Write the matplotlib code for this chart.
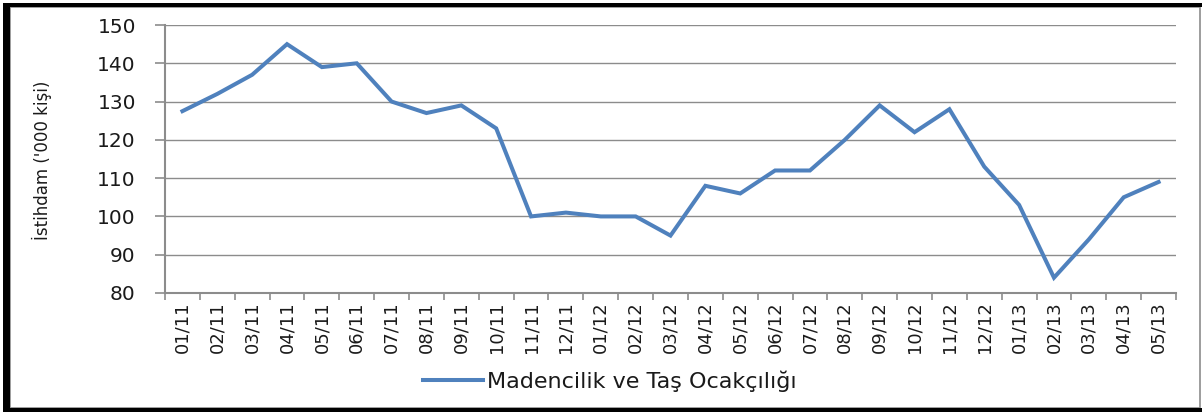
import numpy as np
import matplotlib.pyplot as plt
from matplotlib.patches import Rectangle
from matplotlib.ticker import MultipleLocator, FixedLocator

# monthly employment, mining & quarrying ('000 persons)
months = ["01/11", "02/11", "03/11", "04/11", "05/11", "06/11", "07/11", "08/11",
          "09/11", "10/11", "11/11", "12/11", "01/12", "02/12", "03/12", "04/12",
          "05/12", "06/12", "07/12", "08/12", "09/12", "10/12", "11/12", "12/12",
          "01/13", "02/13", "03/13", "04/13", "05/13"]
employment = [127.5, 132, 137, 145, 139, 140, 130, 127, 129, 123, 100, 101, 100, 100,
              95, 108, 106, 112, 112, 120, 129, 122, 128, 113, 103, 84, 94, 105, 109]

series_name = "Madencilik ve Taş Ocakçılığı"
y_label = "İstihdam ('000 kişi)"

W, H = 1202, 412
fig = plt.figure(figsize=(W / 100, H / 100), dpi=100)
ax = fig.add_axes([165 / W, 1 - 293 / H, (1176 - 165) / W, (293 - 25) / H])

x = np.arange(len(months))
line, = ax.plot(x, employment, color="#4F81BD", lw=2.9, solid_joinstyle="miter",
                label=series_name)

ax.set_xlim(-0.5, len(months) - 0.5)
ax.set_ylim(80, 150)
ax.yaxis.set_major_locator(MultipleLocator(10))
ax.grid(axis="y", color="#8c8c8c", lw=1.0)
ax.set_axisbelow(True)

ax.set_xticks(x)
ax.set_xticklabels(months, rotation=90, fontsize=13, color="#1a1a1a")
ax.xaxis.set_minor_locator(FixedLocator(np.arange(-0.5, len(months), 1.0)))
ax.tick_params(axis="x", which="major", length=0, pad=6)
ax.tick_params(axis="x", which="minor", length=5, width=1.2, color="#8c8c8c")
ax.tick_params(axis="y", length=7, width=1.2, color="#8c8c8c", labelsize=14.5,
               labelcolor="#1a1a1a", pad=14)

for s in ("top", "right"):
    ax.spines[s].set_visible(False)
for s in ("left", "bottom"):
    ax.spines[s].set_color("#8c8c8c")
    ax.spines[s].set_linewidth(1.5)

fig.text(42 / W, 1 - 160 / H, y_label, rotation=90, ha="center", va="center",
         fontsize=12, color="#1a1a1a")

fig.legend(handles=[line], loc="center", bbox_to_anchor=(610 / W, 1 - 381 / H),
           frameon=False, fontsize=16, handlelength=2.7, handletextpad=0.2,
           labelcolor="#1a1a1a")

# chart frame
fig.add_artist(Rectangle((10 / W, 1 - 408 / H), 1190 / W, 401 / H, transform=fig.transFigure,
                         fill=False, edgecolor="#8c8c8c", lw=1.2))
fig.add_artist(Rectangle((3 / W, 1 - 411 / H), 7 / W, 408 / H, transform=fig.transFigure,
                         color="black", lw=0))
fig.add_artist(Rectangle((3 / W, 1 - 7 / H), 1199 / W, 4 / H, transform=fig.transFigure,
                         color="black", lw=0))
fig.add_artist(Rectangle((3 / W, 1 - 412 / H), 1199 / W, 4 / H, transform=fig.transFigure,
                         color="black", lw=0))

fig.savefig("out.png", dpi=100)
